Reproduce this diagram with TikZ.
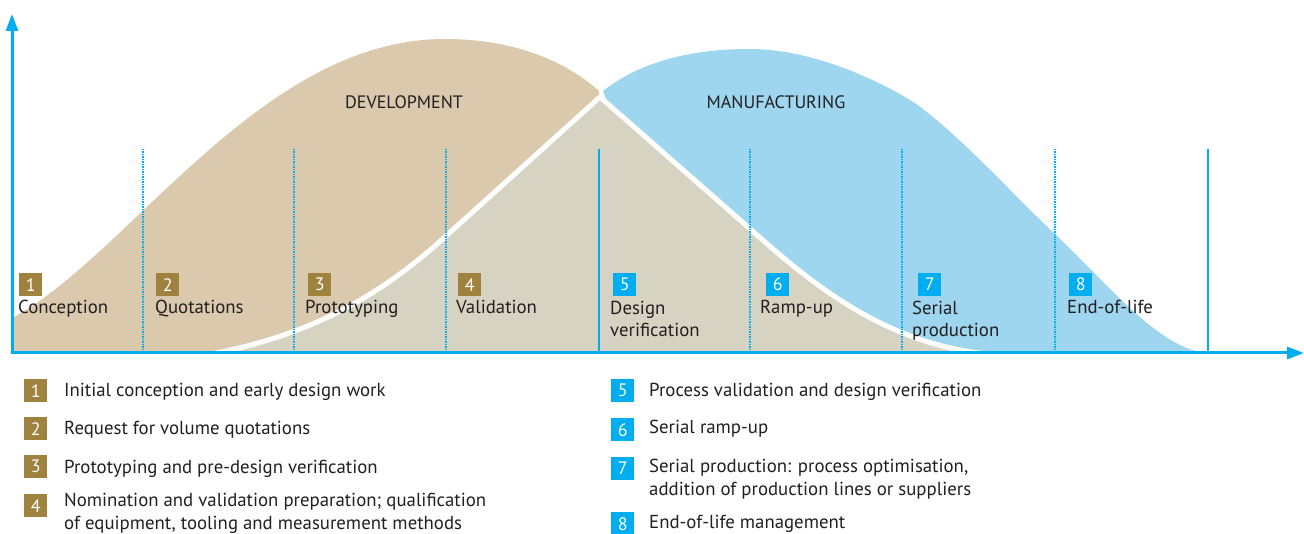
\documentclass[tikz,border=0pt]{standalone}
\usepackage{fontspec}
\setmainfont{PT Sans}
\usetikzlibrary{arrows.meta}
\definecolor{devtan}{HTML}{DBC9AE}
\definecolor{overlapgray}{HTML}{D7D3C3}
\definecolor{mfgblue}{HTML}{9DD6EE}
\definecolor{gold}{HTML}{A0823F}
\definecolor{cyanline}{HTML}{00AEEF}
\definecolor{ink}{HTML}{231F20}
\begin{document}
\begin{tikzpicture}[x=1pt,y=-1pt,
  every node/.style={font=\fontsize{18.8}{22.5}\selectfont, text=ink},
  axis/.style={cyanline, line width=3pt, -{Triangle[length=17pt,width=12pt]}},
  phasedot/.style={cyanline, line width=1.4pt, dash pattern=on 1.4pt off 1.1pt},
  phasesolid/.style={cyanline, line width=2pt},
  badge/.style={minimum width=23pt, minimum height=23pt, inner sep=0pt, anchor=north west,
    text=white, font=\fontsize{18}{20}\selectfont},
  badgeG/.style={badge, fill=gold},
  badgeB/.style={badge, fill=cyanline},
  phaselabel/.style={anchor=base west, align=left, inner sep=0pt},
  legendtext/.style={anchor=base west, align=left, inner sep=0pt},
  title/.style={anchor=base, inner sep=0pt, font=\fontsize{18}{22}\selectfont}
]
\useasboundingbox (0,0) rectangle (1304,534);

% development curve
\fill[devtan] (12,318) .. controls (130,255) and (260,39) .. (445,39)
  .. controls (520,39) and (570,65) .. (599,91) -- (599,353) -- (12,353) -- cycle;
% manufacturing curve
\fill[mfgblue] (603,91) .. controls (640,62) and (690,49) .. (750,49)
  .. controls (810,49) and (875,78) .. (915,103)
  .. controls (965,140) and (1010,192) .. (1056,235)
  .. controls (1110,286) and (1160,350) .. (1208,353) -- (700,353) -- cycle;
% overlap region with white rim
\fill[overlapgray] (215,353) .. controls (320,335) and (390,287) .. (446,236)
  -- (600,97) -- (740,220) .. controls (800,273) and (880,348) .. (990,353) -- cycle;
\draw[white, line width=5pt, line join=round] (205,355) .. controls (320,335) and (390,287) .. (446,236)
  -- (600,97) -- (740,220) .. controls (800,273) and (880,348) .. (1000,355);

% phase separators
\foreach \px in {143,294,446,750,902,1055}
  \draw[phasedot] (\px,149) -- (\px,352);
\foreach \px in {599,1208}
  \draw[phasesolid] (\px,149) -- (\px,352);

% axes
\coordinate (origin) at (12,353);
\coordinate (ytip) at (12,14);
\coordinate (xtip) at (1304,353);
\draw[axis] ([yshift=1.5pt]origin) -- (ytip);
\draw[axis] ([xshift=-1.5pt]origin) -- (xtip);

% titles
\node[title] (dev) at (404,109) {DEVELOPMENT};
\node[title] (mfg) at (776,109) {MANUFACTURING};

% phase badges and labels (multi-line labels are placed by their last line)
\node[badgeG] (p1) at (19,273) {1};
\node[badgeG] (p2) at (156,273) {2};
\node[badgeG] (p3) at (308,273) {3};
\node[badgeG] (p4) at (458,273) {4};
\node[badgeB] (p5) at (613,273) {5};
\node[badgeB] (p6) at (766,273) {6};
\node[badgeB] (p7) at (918,273) {7};
\node[badgeB] (p8) at (1069,273) {8};
\node[phaselabel] (l1) at (18,314) {Conception};
\node[phaselabel] (l2) at (155,314) {Quotations};
\node[phaselabel] (l3) at (305,314) {Prototyping};
\node[phaselabel] (l4) at (456,314) {Validation};
\node[phaselabel] (l5) at (610,337) {Design\\verification};
\node[phaselabel] (l6) at (760,314) {Ramp-up};
\node[phaselabel] (l7) at (912,337) {Serial\\production};
\node[phaselabel] (l8) at (1067,314) {End-of-life};

% legend
\node[badgeG] (k1) at (24,379) {1};
\node[badgeG] (k2) at (24,417) {2};
\node[badgeG] (k3) at (24,455) {3};
\node[badgeG] (k4) at (24,494) {4};
\node[badgeB] (k5) at (611,379) {5};
\node[badgeB] (k6) at (611,418) {6};
\node[badgeB] (k7) at (611,457) {7};
\node[badgeB] (k8) at (611,512) {8};
\node[legendtext] (t1) at (64,397) {Initial conception and early design work};
\node[legendtext] (t2) at (64,435) {Request for volume quotations};
\node[legendtext] (t3) at (64,473) {Prototyping and pre-design verification};
\node[legendtext] (t4) at (64,529) {Nomination and validation preparation; qualification\\of equipment, tooling and measurement methods};
\node[legendtext] (t5) at (649,397) {Process validation and design verification};
\node[legendtext] (t6) at (649,434) {Serial ramp-up};
\node[legendtext] (t7) at (649,495) {Serial production: process optimisation,\\addition of production lines or suppliers};
\node[legendtext] (t8) at (649,528) {End-of-life management};
\end{tikzpicture}
\end{document}
